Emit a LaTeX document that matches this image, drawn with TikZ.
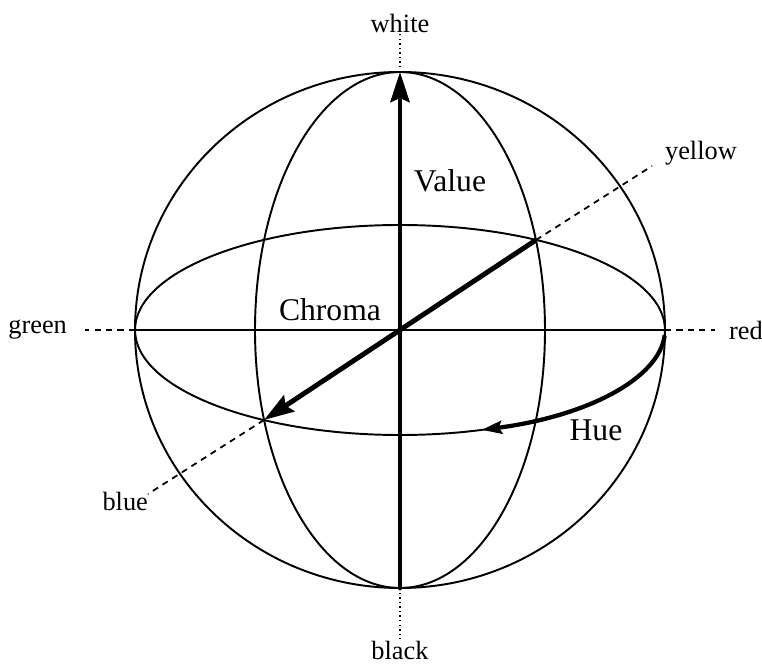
\documentclass[tikz,border=0pt]{standalone}
\usepackage{fontspec}
\setmainfont{Liberation Serif}
\usepackage{tikz}
\usetikzlibrary{arrows.meta, positioning}

\tikzset{
  sphereline/.style={line width=1.1pt},
  axisline/.style={line width=2.8pt},
  guide/.style={dash pattern=on 3.5pt off 3pt, line width=1pt},
  pole/.style={dash pattern=on 0.8pt off 1.8pt, line width=1.2pt},
  colorlab/.style={font=\fontsize{15}{18}\selectfont, inner sep=1pt},
  axislab/.style={font=\fontsize{18}{22}\selectfont, inner sep=1pt}
}

\begin{document}
\begin{tikzpicture}[>={Stealth[length=0.6cm, width=0.38cm, inset=0.08cm]}]

\useasboundingbox (-8,-6.74) rectangle (7.24,6.6);

%% Key points on the sphere
\coordinate (c) at (0,0);
\coordinate (top) at (0,5.16);
\coordinate (bot) at (0,-5.16);
\coordinate (eqL) at (-5.3,0);
\coordinate (eqR) at (5.3,0);
\coordinate (ye) at (2.72,1.80);
\coordinate (bl) at (-2.72,-1.80);

%% Sphere outline, equator and meridian
\draw[sphereline] (c) ellipse[x radius=5.3, y radius=5.16];
\draw[sphereline] (c) ellipse[x radius=5.3, y radius=2.1];
\draw[sphereline] (c) ellipse[x radius=2.9, y radius=5.16];

%% Hue axis (green -- red)
\draw[line width=1.7pt] (eqL) -- (eqR);

%% Free ends of the guide lines
\coordinate (gEnd) at (-6.3,0);
\coordinate (rEnd) at (6.3,0);
\coordinate (yEnd) at (5.04,3.28);
\coordinate (bEnd) at (-5.04,-3.28);

%% Colour labels
\node[colorlab] (white) at (0,6.14) {white};
\node[colorlab] (black) at (0,-6.4) {black};
\node[colorlab, left=0.32cm of gEnd] (green) {green};
\node[colorlab, right=0.24cm of rEnd] (red) {red};
\node[colorlab, anchor=base west] (yellow) at (5.26,3.4) {yellow};
\node[colorlab, anchor=north east] (blue) at (-5.0,-3.2) {blue};

%% Guide lines
\draw[guide] (eqL) -- (gEnd);
\draw[guide] (eqR) -- (rEnd);
\draw[guide] (ye) -- (yEnd);
\draw[guide] (bl) -- (bEnd);
\draw[pole] (top) -- (white);
\draw[pole] (bot) -- (black);

%% Value and Chroma arrows
\draw[axisline, line cap=round, ->] (bot) -- (top);
\draw[axisline, ->] (ye) -- (bl);

%% Hue arrow along the equator
\draw[line width=2.4pt, ->, >={Stealth[length=0.4cm, width=0.26cm, inset=0.06cm]}]
  (-3:5.3 and 2.1) arc[start angle=-3, end angle=-72, x radius=5.3, y radius=2.1];

%% Axis labels
\node[axislab] (value) at (1.0,2.98) {Value};
\node[axislab] (chroma) at (-1.4,0.4) {Chroma};
\node[axislab] (hue) at (3.92,-2.0) {Hue};

\end{tikzpicture}
\end{document}
